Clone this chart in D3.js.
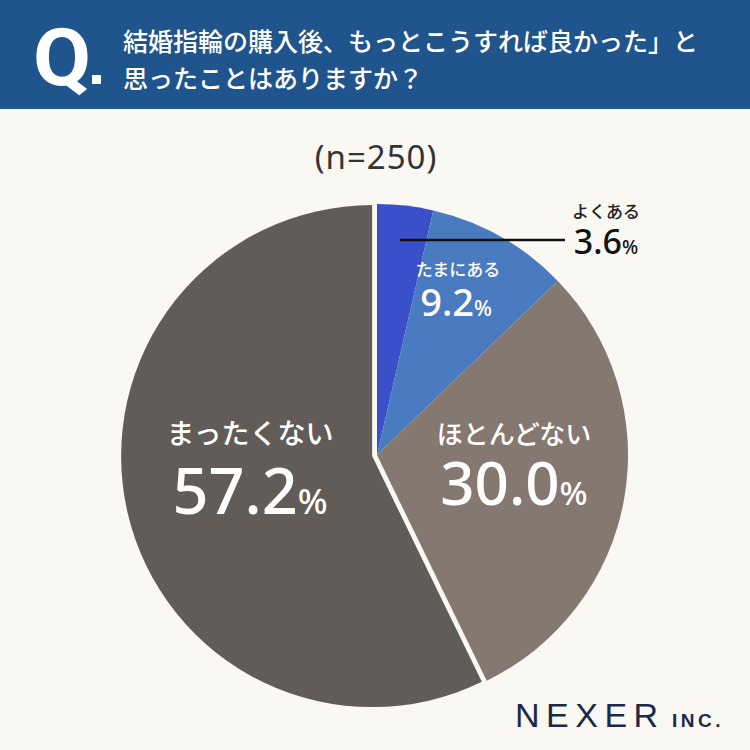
<!DOCTYPE html>
<meta charset="utf-8">
<style>
body { margin: 0; background: #f9f8f3; }
svg { display: block; font-family: "Noto Sans CJK JP", "Noto Sans", sans-serif; }
</style>
<body>
<script src="https://d3js.org/d3.v7.min.js"></script>
<script>

var labels = ["よくある", "たまにある", "ほとんどない", "まったくない"];
var values = [3.6, 9.2, 30.0, 57.2];
var colors = ["#3a4fca", "#4a7bc0", "#857870", "#625c58"];
var sampleNote = "(n=250)";
var titleLines = ["結婚指輪の購入後、もっとこうすれば良かった」と", "思ったことはありますか？"];

var width = 750, height = 750;
var cx = 377, cy = 455, r = 251;

var svg = d3.select("body").append("svg")
    .attr("width", width)
    .attr("height", height);

svg.append("rect").attr("width", width).attr("height", height).attr("fill", "#f9f8f3");

// header
svg.append("rect").attr("width", width).attr("height", 109).attr("fill", "#1f548c");
svg.append("text")
    .attr("x", 33).attr("y", 85)
    .attr("fill", "#fff")
    .style("font-family", "Roboto, 'Liberation Sans', sans-serif")
    .style("font-weight", "bold")
    .style("font-size", "80px")
    .attr("textLength", 58).attr("lengthAdjust", "spacingAndGlyphs")
    .text("Q");
svg.append("rect").attr("x", 92).attr("y", 75).attr("width", 9).attr("height", 9).attr("fill", "#fff");
svg.selectAll(".title")
    .data(titleLines)
  .enter().append("text")
    .attr("class", "title")
    .attr("x", 123)
    .attr("y", function(d, i) { return 51 + i * 37; })
    .attr("fill", "#fff")
    .style("font-size", "25px")
    .style("font-weight", "500")
    .text(function(d) { return d; });

svg.append("text")
    .attr("x", 376).attr("y", 169)
    .attr("text-anchor", "middle")
    .attr("fill", "#333")
    .style("font-family", "'Noto Sans', sans-serif")
    .style("font-size", "33px")
    .style("letter-spacing", "1px")
    .text(sampleNote);

// pie
var pie = d3.pie().sort(null).value(function(d) { return d; });
var arcs = pie(values);
var arc = d3.arc().innerRadius(0).outerRadius(r);

var g = svg.append("g").attr("transform", "translate(" + cx + "," + cy + ")");

g.selectAll("path")
    .data(arcs)
  .enter().append("path")
    .attr("d", arc)
    .attr("fill", function(d, i) { return colors[i]; })
    .attr("transform", function(d, i) {
      if (i !== 3) return null;
      var a = (d.startAngle + d.endAngle) / 2;
      return "translate(" + (Math.sin(a) * 5) + "," + (-Math.cos(a) * 5) + ")";
    });

// labels
function pctLabel(x, y, value, size, fill) {
  var t = svg.append("text")
      .attr("x", x).attr("y", y)
      .attr("text-anchor", "middle")
      .attr("fill", fill)
      .style("font-family", "'Noto Sans', sans-serif")
      .style("font-weight", "500");
  t.append("tspan").style("font-size", size + "px").text(value.toFixed(1));
  t.append("tspan").style("font-size", Math.round(size * 0.55) + "px").text("%");
}

function nameLabel(x, y, name, size, fill) {
  svg.append("text")
      .attr("x", x).attr("y", y)
      .attr("text-anchor", "middle")
      .attr("fill", fill)
      .style("font-size", size + "px")
      .style("font-weight", "500")
      .text(name);
}

// よくある (outside, with leader line)
svg.append("line")
    .attr("x1", 400).attr("x2", 565)
    .attr("y1", 240).attr("y2", 240)
    .attr("stroke", "#111").attr("stroke-width", 2.5);
nameLabel(606, 218, labels[0], 17, "#222");
pctLabel(606, 254, values[0], 34, "#111");

nameLabel(458, 276, labels[1], 17, "#fff");
pctLabel(456, 316, values[1], 38, "#fff");

nameLabel(514, 444, labels[2], 26, "#fff");
pctLabel(514, 505, values[2], 60, "#fff");

nameLabel(250, 444, labels[3], 28, "#fff");
pctLabel(250, 514, values[3], 63, "#fff");

// logo
svg.append("text")
    .attr("x", 515).attr("y", 727)
    .attr("fill", "#1b2a48")
    .style("font-family", "'Liberation Sans', sans-serif")
    .style("font-size", "34px")
    .style("letter-spacing", "6.5px")
    .text("NEXER");
svg.append("text")
    .attr("x", 672).attr("y", 727)
    .attr("fill", "#1b2a48")
    .style("font-family", "'Liberation Sans', sans-serif")
    .style("font-weight", "bold")
    .style("font-size", "19px")
    .style("letter-spacing", "3.5px")
    .text("INC.");

</script>
